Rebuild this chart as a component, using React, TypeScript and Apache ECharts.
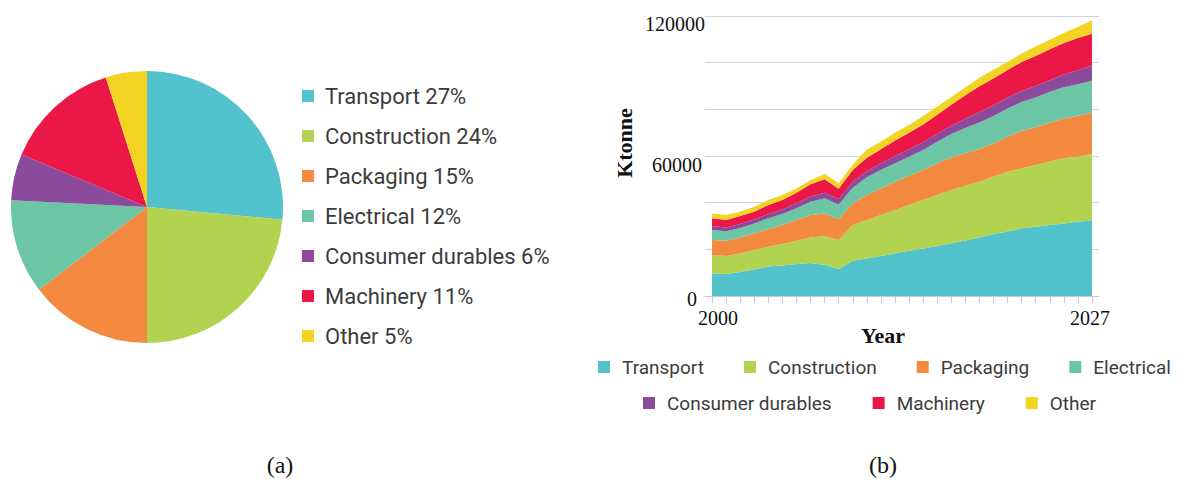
import React, { useEffect, useRef } from "react";
import * as echarts from "echarts";

const NAMES = ["Transport", "Construction", "Packaging", "Electrical", "Consumer durables", "Machinery", "Other"];
const COLORS = ["#52C3CD", "#B2D34F", "#F38A3F", "#6CC5A4", "#8C4A9C", "#EB1747", "#F4D423"];
// percentages printed in the pie legend
const PIE_SHARES = [27, 24, 15, 12, 6, 11, 5];
// slice sizes as drawn in the pie
const PIE_VALUES = [26.5, 23.5, 14.6, 11.2, 5.5, 13.8, 4.9];

const YEARS = ["2000", "2001", "2002", "2003", "2004", "2005", "2006", "2007", "2008", "2009",
  "2010", "2011", "2012", "2013", "2014", "2015", "2016", "2017", "2018", "2019",
  "2020", "2021", "2022", "2023", "2024", "2025", "2026", "2027"];

const TRANSPORT = [9700, 9400, 10300, 11400, 12600, 13100, 13700, 14100, 13400, 11600, 15100, 16100, 17100, 18300, 19400, 20400, 21400, 22600, 23800, 25100, 26600, 27600, 29000, 29700, 30400, 31100, 31900, 32300];
const CONSTRUCTION = [7900, 7700, 8000, 8300, 8500, 9200, 10000, 11000, 12300, 12400, 15300, 16500, 17600, 18600, 19600, 20700, 21900, 22800, 23400, 23900, 24500, 25700, 25700, 26400, 27200, 27900, 27800, 28600];
const PACKAGING = [6400, 6600, 6800, 7200, 7500, 8100, 8900, 9600, 9700, 8900, 9300, 10700, 11400, 12100, 12400, 12900, 13600, 14000, 14000, 14000, 14300, 15000, 16000, 16200, 16700, 17100, 17600, 17700];
const ELECTRICAL = [4300, 4000, 4000, 4200, 4700, 4700, 5000, 5700, 6500, 6300, 6700, 7600, 7900, 7900, 8300, 8600, 9200, 10000, 10800, 11400, 11700, 12100, 12400, 12800, 13200, 13400, 13500, 13700];
const CONSUMER = [1700, 1700, 1800, 1800, 1800, 2000, 2100, 2200, 2400, 2400, 2600, 2600, 2900, 3100, 3200, 3300, 3400, 3600, 4000, 4500, 4700, 4700, 4800, 4900, 5000, 5400, 5900, 6500];
const MACHINERY = [3300, 3200, 3400, 3200, 3900, 4000, 4600, 5300, 5700, 4400, 5000, 5700, 6000, 6600, 7100, 7600, 8200, 9000, 10000, 11000, 11400, 11800, 12400, 12900, 13300, 13500, 13900, 13600];
const OTHER = [2100, 2100, 1800, 2200, 2100, 2200, 1800, 1800, 2300, 2300, 2300, 3600, 3200, 3400, 3300, 3600, 3500, 3200, 3400, 3600, 3800, 3500, 3600, 4000, 4000, 4300, 4800, 5800];

const SERIES_VALUES = [TRANSPORT, CONSTRUCTION, PACKAGING, ELECTRICAL, CONSUMER, MACHINERY, OTHER];

const Y_LABELS = [0, 60000, 120000];
const X_LABELS = ["2000", "2027"];

const SANS = "Roboto, 'Noto Sans', sans-serif";
const SERIF = "'Liberation Serif', 'DejaVu Serif', serif";

export default function App() {
  const ref = useRef<HTMLDivElement>(null);

  useEffect(() => {
    document.body.style.margin = "0";
    const chart = echarts.init(ref.current!, null, { renderer: "svg" });

    const shareMap: Record<string, number> = {};
    NAMES.forEach((n, i) => (shareMap[n] = PIE_SHARES[i]));

    const legendCommon = {
      orient: "horizontal" as const,
      icon: "rect",
      itemWidth: 12,
      itemHeight: 12,
      padding: 0,
      width: 640,
      selectedMode: false,
      textStyle: { fontFamily: SANS, fontSize: 19, lineHeight: 20, color: "#3c3c3c", padding: [0, 0, 0, 7] },
    };

    const option: any = {
      animation: false,
      color: COLORS,
      legend: [
        {
          orient: "vertical",
          left: 302,
          top: 85,
          padding: 0,
          icon: "rect",
          itemWidth: 12,
          itemHeight: 12,
          itemGap: 18,
          selectedMode: false,
          data: NAMES,
          formatter: (name: string) => `${name} ${shareMap[name]}%`,
          textStyle: { fontFamily: SANS, fontSize: 22, lineHeight: 22, color: "#3c3c3c", padding: [0, 0, 0, 6] },
        },
        { ...legendCommon, left: 598, top: 357, itemGap: 40, data: NAMES.slice(0, 4) },
        { ...legendCommon, left: 643, top: 393, itemGap: 41, data: NAMES.slice(4) },
      ],
      grid: { left: 705, top: 16, width: 394, height: 280, containLabel: false },
      xAxis: {
        type: "category",
        data: YEARS,
        boundaryGap: true,
        axisLine: { show: true, lineStyle: { color: "#c8c8c8", width: 1 } },
        axisTick: { show: true, alignWithLabel: true, interval: 0, length: 7, lineStyle: { color: "#c8c8c8" } },
        axisLabel: {
          interval: 0,
          margin: 12,
          formatter: (v: string) => (v === X_LABELS[0] ? `{a|${v}}` : v === X_LABELS[1] ? `{b|${v}}` : ""),
          rich: {
            a: { fontFamily: SERIF, fontSize: 20, color: "#111", padding: [0, 0, 0, 12] },
            b: { fontFamily: SERIF, fontSize: 20, color: "#111", padding: [0, 4, 0, 0] },
          },
        },
        splitLine: { show: false },
      },
      yAxis: {
        type: "value",
        min: 0,
        max: 120000,
        interval: 20000,
        axisLine: { show: false },
        axisTick: { show: false },
        splitLine: { show: true, lineStyle: { color: "#d2d2d2", width: 1 } },
        axisLabel: {
          margin: 0,
          formatter: (v: number) =>
            v === Y_LABELS[2] ? `{d|${v}}` : v === Y_LABELS[1] ? `{c|${v}}` : v === Y_LABELS[0] ? `{z|${v}}` : "",
          rich: {
            d: { fontFamily: SERIF, fontSize: 20, color: "#111", padding: [16, 0, 0, 0] },
            c: { fontFamily: SERIF, fontSize: 20, color: "#111", padding: [18, 3, 0, 0] },
            z: { fontFamily: SERIF, fontSize: 20, color: "#111", padding: [5, 8, 0, 0] },
          },
        },
      },
      series: [
        {
          type: "pie",
          name: "share",
          center: [147, 207],
          radius: 136,
          startAngle: 90,
          clockwise: true,
          label: { show: false },
          labelLine: { show: false },
          emphasis: { disabled: true },
          itemStyle: { borderWidth: 0 },
          data: NAMES.map((n, i) => ({ name: n, value: PIE_VALUES[i], itemStyle: { color: COLORS[i] } })),
        },
        ...NAMES.map((n, i) => ({
          type: "line",
          name: n,
          stack: "total",
          data: SERIES_VALUES[i],
          symbol: "none",
          smooth: false,
          lineStyle: { width: 0 },
          areaStyle: { color: COLORS[i], opacity: 1 },
          itemStyle: { color: COLORS[i] },
          emphasis: { disabled: true },
        })),
      ],
      graphic: [
        {
          type: "text",
          x: 624,
          y: 143,
          rotation: Math.PI / 2,
          style: { text: "Ktonne", font: `bold 22px ${SERIF}`, fill: "#111", align: "center", verticalAlign: "middle" },
        },
        {
          type: "text",
          x: 883,
          y: 335,
          style: { text: "Year", font: `bold 22px ${SERIF}`, fill: "#111", align: "center", verticalAlign: "middle" },
        },
        {
          type: "text",
          x: 280,
          y: 465,
          style: { text: "(a)", font: `24px ${SERIF}`, fill: "#111", align: "center", verticalAlign: "middle" },
        },
        {
          type: "text",
          x: 883,
          y: 465,
          style: { text: "(b)", font: `24px ${SERIF}`, fill: "#111", align: "center", verticalAlign: "middle" },
        },
      ],
    };

    chart.setOption(option);
    return () => chart.dispose();
  }, []);

  return <div ref={ref} style={{ width: 1179, height: 480 }} />;
}
